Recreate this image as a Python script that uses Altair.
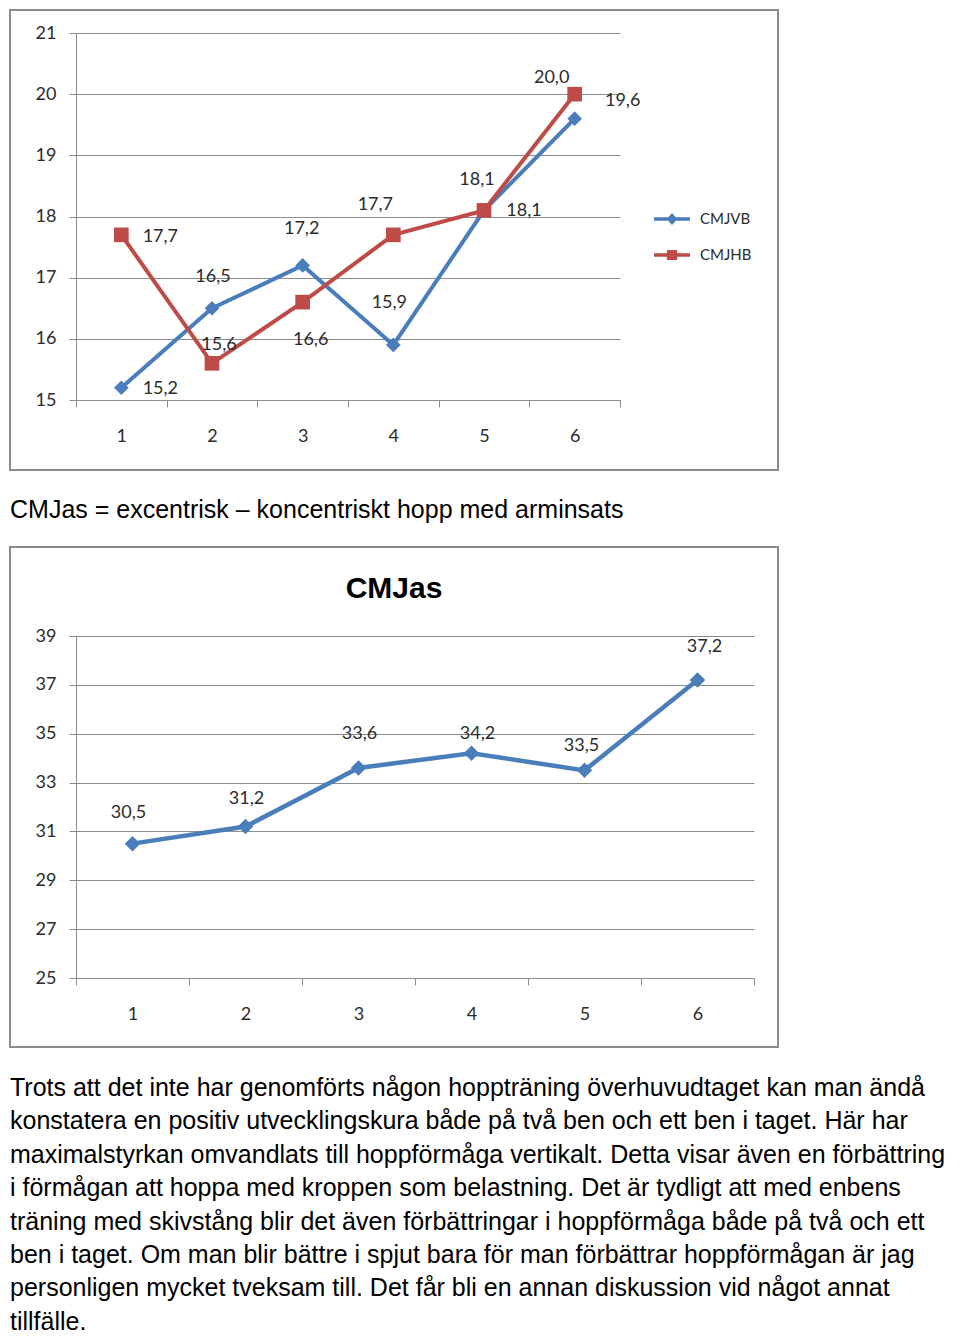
import altair as alt
import pandas as pd

# ---------------- data ----------------
categories = [1, 2, 3, 4, 5, 6]
series_names = ["CMJVB", "CMJHB"]
cmjvb = [15.2, 16.5, 17.2, 15.9, 18.1, 19.6]
cmjhb = [17.7, 15.6, 16.6, 17.7, 18.1, 20.0]
cmjas = [30.5, 31.2, 33.6, 34.2, 33.5, 37.2]
y1_ticks = [15, 16, 17, 18, 19, 20, 21]
y2_ticks = [25, 27, 29, 31, 33, 35, 37, 39]
chart2_title = "CMJas"
caption = "CMJas = excentrisk – koncentriskt hopp med arminsats"
paragraph = [
    "Trots att det inte har genomförts någon hoppträning överhuvudtaget kan man ändå",
    "konstatera en positiv utvecklingskura både på två ben och ett ben i taget. Här har",
    "maximalstyrkan omvandlats till hoppförmåga vertikalt. Detta visar även en förbättring",
    "i förmågan att hoppa med kroppen som belastning. Det är tydligt att med enbens",
    "träning med skivstång blir det även förbättringar i hoppförmåga både på två och ett",
    "ben i taget. Om man blir bättre i spjut bara för man förbättrar hoppförmågan är jag",
    "personligen mycket tveksam till. Det får bli en annan diskussion vid något annat",
    "tillfälle.",
]

# ---------------- styles ----------------
BLUE = "#4a7ebb"
RED = "#be4b48"
GRID = "#8c8c8c"
TXT = "#2b2b2b"
FONT = "Lato"
DOCFONT = "Liberation Sans"
DOCSIZE = 25.0

W1, H1 = 544, 367
W2, H2 = 678, 342
D1 = [15, 21]
D2 = [25, 39]

# label offsets in pixels (style, not data)
lbl1_dx = {"CMJVB": [39, 1, -1, -4, -7, 48], "CMJHB": [39, 7, 8, -18, 40, -23]}
lbl1_dy = {"CMJVB": [1, -31, -36, -42, -30, -18], "CMJHB": [2, -18, 38, -30, 1, -16]}
lbl2_dx = [-4, 1, 1, 6, -3, 7]
lbl2_dy = [-31, -28, -34, -19, -24, -33]


def fmt(v):
    return f"{v:.1f}".replace(".", ",")


ppu1 = H1 / (D1[1] - D1[0])
ppu2 = H2 / (D2[1] - D2[0])
step1 = W1 / len(categories)
step2 = W2 / len(categories)

rows1 = []
for name, vals in zip(series_names, [cmjvb, cmjhb]):
    for i, (c, v) in enumerate(zip(categories, vals)):
        rows1.append({"x": c, "value": v, "series": name, "label": fmt(v),
                      "xoff": lbl1_dx[name][i] + step1 / 2,
                      "ylab": v - lbl1_dy[name][i] / ppu1})
df1 = pd.DataFrame(rows1)

df2 = pd.DataFrame({"x": categories, "value": cmjas,
                    "label": [fmt(v) for v in cmjas],
                    "xoff": [d + step2 / 2 for d in lbl2_dx],
                    "ylab": [v - d / ppu2 for v, d in zip(cmjas, lbl2_dy)]})

one = pd.DataFrame({"k": [0]})


def xenc(center=True):
    kw = dict(title=None,
              scale=alt.Scale(type="band", paddingInner=0, paddingOuter=0),
              axis=alt.Axis(labelAngle=0, tickBand="extent", grid=False,
                            tickSize=7, labelPadding=20))
    if center:
        kw["bandPosition"] = 0.5
    return alt.X("x:O", **kw)


def yenc(domain, ticks, field="value"):
    return alt.Y(f"{field}:Q", title=None,
                 scale=alt.Scale(domain=domain, nice=False, zero=False),
                 axis=alt.Axis(values=ticks, grid=True, tickSize=7,
                               labelPadding=13, format="d"))


color_scale = alt.Scale(domain=series_names, range=[BLUE, RED])

# ---------------- chart 1 ----------------
frame1 = alt.Chart(one).mark_rect(filled=False, stroke=GRID, strokeWidth=2).encode(
    x=alt.value(-66), x2=alt.value(702), y=alt.value(-23), y2=alt.value(437))

lines1 = alt.Chart(df1).mark_line(strokeWidth=4).encode(
    x=xenc(), y=yenc(D1, y1_ticks),
    color=alt.Color("series:N", scale=color_scale, legend=None),
    detail="series:N")

points1 = alt.Chart(df1).mark_point(filled=True, size=215, opacity=1).encode(
    x=xenc(), y=yenc(D1, y1_ticks),
    color=alt.Color("series:N", scale=color_scale, legend=None),
    shape=alt.Shape("series:N", scale=alt.Scale(domain=series_names, range=["diamond", "square"]), legend=None))

labels1 = alt.Chart(df1).mark_text(font=FONT, fontSize=18, color=TXT).encode(
    x=xenc(center=False), y=yenc(D1, y1_ticks, "ylab"), text="label:N",
    xOffset=alt.XOffset("xoff:Q", scale=None))

path_blue = "M-1,-0.1H1V0.1H-1Z M0,-0.34L0.3,0L0,0.34L-0.3,0Z"
path_red = "M-1,-0.1H1V0.1H-1Z M-0.28,-0.28H0.28V0.28H-0.28Z"
leg = alt.Legend(title=None, orient="none", legendX=578, legendY=168,
                 symbolSize=1296, labelFont=FONT, labelFontSize=15,
                 labelColor=TXT, labelOffset=10, rowPadding=10, padding=0,
                 symbolStrokeWidth=0, symbolOpacity=1)
legend1 = alt.Chart(pd.DataFrame({"series": series_names})).mark_point(filled=True, opacity=1).encode(
    color=alt.Color("series:N", scale=color_scale, legend=leg),
    shape=alt.Shape("series:N", scale=alt.Scale(domain=series_names, range=[path_blue, path_red]), legend=leg),
).transform_filter("datum.series == 'none'")

chart1 = alt.layer(frame1, lines1, points1, labels1, legend1).resolve_scale(
    color="independent", shape="independent").properties(width=W1, height=H1)

# ---------------- caption ----------------
cap = alt.Chart(pd.DataFrame({"t": [caption]})).mark_text(
    align="left", baseline="middle", font=DOCFONT, fontSize=DOCSIZE, color="#000000"
).encode(text="t:N", x=alt.value(-66), y=alt.value(37)).properties(width=702, height=71)

# ---------------- chart 2 ----------------
frame2 = alt.Chart(one).mark_rect(filled=False, stroke=GRID, strokeWidth=2).encode(
    x=alt.value(-66), x2=alt.value(702), y=alt.value(-89), y2=alt.value(411))
title2 = alt.Chart(pd.DataFrame({"t": [chart2_title]})).mark_text(
    font=DOCFONT, fontSize=30, fontWeight="bold", color="#000000", baseline="middle"
).encode(text="t:N", x=alt.value(318), y=alt.value(-47))
lines2 = alt.Chart(df2).mark_line(strokeWidth=4.5, color=BLUE).encode(
    x=xenc(), y=yenc(D2, y2_ticks))
points2 = alt.Chart(df2).mark_point(filled=True, size=240, opacity=1, color=BLUE, shape="diamond").encode(
    x=xenc(), y=yenc(D2, y2_ticks))
labels2 = alt.Chart(df2).mark_text(font=FONT, fontSize=18, color=TXT).encode(
    x=xenc(center=False), y=yenc(D2, y2_ticks, "ylab"), text="label:N",
    xOffset=alt.XOffset("xoff:Q", scale=None))
chart2 = alt.layer(frame2, title2, lines2, points2, labels2).properties(width=W2, height=H2)

# ---------------- paragraph ----------------
LH = 33.4
TOP = 38
HP = 272
d0 = -TOP / LH
d1 = d0 + HP / LH
para_df = pd.DataFrame({"i": list(range(len(paragraph))), "line": paragraph})
para = alt.Chart(para_df).mark_text(
    align="left", baseline="middle", font=DOCFONT, fontSize=DOCSIZE, color="#000000"
).encode(
    text="line:N", x=alt.value(-66),
    y=alt.Y("i:Q", scale=alt.Scale(domain=[d0, d1], reverse=True, nice=False, zero=False), axis=None),
).properties(width=702, height=HP)

chart = alt.vconcat(chart1, cap, chart2, para, spacing=0).properties(
    padding=0
).configure_view(stroke="transparent").configure_axis(
    labelFont=FONT, labelFontSize=18, labelColor=TXT,
    domainColor=GRID, tickColor=GRID, gridColor=GRID, gridWidth=1,
    domainWidth=1, tickWidth=1, gridOpacity=1,
)

chart.save("out.html", embed_options={"renderer": "svg", "actions": False})
